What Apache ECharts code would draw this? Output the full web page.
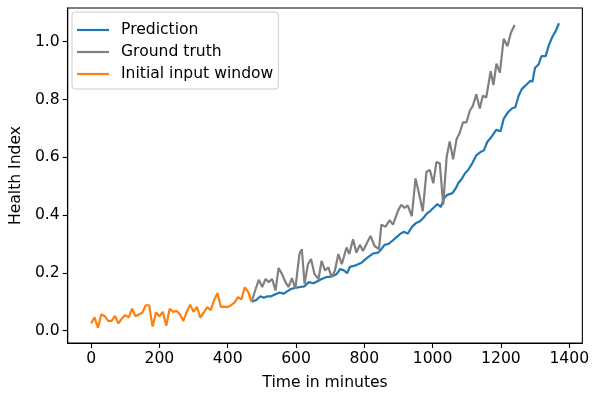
<!DOCTYPE html>
<html>
<head>
<meta charset="utf-8">
<script src="https://cdn.jsdelivr.net/npm/echarts@6/dist/echarts.min.js"></script>
<style>html,body{margin:0;padding:0;background:#fff;}#c{width:592px;height:396px;}</style>
</head>
<body>
<div id="c"></div>
<script>
const inputTimes = [0,10,20,30,40,50,60,70,80,90,100,110,120,130,140,150,160,170,180,190,200,210,220,230,240,250,260,270,280,290,300,310,320,330,340,350,360,370,380,390,400,410,420,430,440,450,460,470];
const inputValues = [0.025,0.046,0.010,0.057,0.050,0.034,0.034,0.051,0.025,0.042,0.054,0.046,0.076,0.050,0.056,0.062,0.088,0.088,0.014,0.063,0.050,0.065,0.017,0.076,0.065,0.068,0.057,0.033,0.065,0.090,0.065,0.082,0.045,0.063,0.082,0.071,0.105,0.130,0.082,0.082,0.082,0.088,0.097,0.116,0.108,0.150,0.134,0.100];

const truthTimes = [470,482,491,501,511,520,530,540,549,559,569,578,588,598,610,617,625,635,644,654,666,675,685,695,704,714,724,734,748,756,767,777,787,796,806,818,830,843,850,862,874,884,898,908,918,927,939,950,961,971,982,992,1002,1011,1021,1031,1041,1050,1060,1070,1080,1089,1099,1109,1118,1128,1138,1147,1157,1170,1178,1187,1197,1208,1219,1229,1240];
const truthValues = [0.100,0.145,0.176,0.151,0.179,0.168,0.179,0.139,0.217,0.196,0.168,0.151,0.182,0.145,0.265,0.282,0.162,0.230,0.248,0.196,0.179,0.242,0.208,0.219,0.185,0.208,0.265,0.230,0.288,0.265,0.316,0.270,0.297,0.276,0.299,0.328,0.293,0.282,0.367,0.360,0.382,0.367,0.413,0.436,0.425,0.434,0.396,0.527,0.470,0.413,0.550,0.556,0.510,0.584,0.579,0.436,0.600,0.655,0.593,0.662,0.687,0.721,0.721,0.761,0.779,0.818,0.769,0.813,0.807,0.898,0.850,0.924,0.893,1.010,0.984,1.030,1.058];

const predTimes = [470,482,496,506,516,527,540,552,564,574,585,598,612,624,637,651,663,675,688,700,709,719,729,738,750,758,772,782,792,801,816,825,840,850,859,872,884,893,903,915,927,940,952,963,973,982,992,1005,1014,1024,1034,1043,1058,1068,1075,1085,1095,1104,1116,1128,1140,1150,1160,1172,1186,1199,1208,1221,1232,1242,1252,1261,1276,1286,1292,1300,1310,1319,1331,1341,1351,1360,1370];
const predValues = [0.100,0.105,0.119,0.114,0.119,0.119,0.126,0.132,0.128,0.136,0.144,0.148,0.151,0.153,0.168,0.164,0.171,0.179,0.185,0.187,0.190,0.196,0.213,0.210,0.199,0.221,0.225,0.230,0.235,0.245,0.259,0.267,0.270,0.282,0.297,0.301,0.313,0.322,0.333,0.342,0.336,0.360,0.373,0.379,0.390,0.404,0.413,0.428,0.438,0.428,0.459,0.470,0.476,0.493,0.510,0.525,0.545,0.556,0.579,0.607,0.618,0.624,0.653,0.670,0.695,0.690,0.733,0.756,0.769,0.773,0.813,0.836,0.853,0.865,0.861,0.910,0.921,0.950,0.950,0.990,1.018,1.036,1.064];

const xTicks = [0,200,400,600,800,1000,1200,1400];
const yTicks = [0,0.2,0.4,0.6,0.8,1.0];

const pairs = (ts, vs) => ts.map((t, i) => [t, vs[i]]);
const FONT = 'DejaVu Sans';
const FS = 15.6;

const chart = echarts.init(document.getElementById('c'), null, {renderer: 'canvas'});
chart.setOption({
  animation: false,
  backgroundColor: '#ffffff',
  textStyle: {fontFamily: FONT},
  grid: {left: 65, right: 8, top: 8, bottom: 50, show: true, borderColor: '#000', borderWidth: 1.1, backgroundColor: 'transparent'},
  legend: {
    orient: 'vertical', left: 72, top: 12,
    icon: 'path://M0,0 L32,0 L32,2.2 L0,2.2 Z',
    itemWidth: 32, itemHeight: 14, itemGap: 6,
    padding: [10, 5, 7, 5],
    backgroundColor: 'rgba(255,255,255,0.8)', borderColor: '#cccccc', borderWidth: 1, borderRadius: 3,
    textStyle: {fontFamily: FONT, fontSize: FS, color: '#000', padding: [0, 0, 0, 7]},
    data: ['Prediction', 'Ground truth', 'Initial input window']
  },
  xAxis: {
    type: 'value', min: -68.5, max: 1438.5,
    name: 'Time in minutes', nameLocation: 'middle', nameGap: 32,
    nameTextStyle: {fontFamily: FONT, fontSize: FS, color: '#000'},
    axisLine: {show: true, onZero: false, lineStyle: {color: '#000', width: 1.1}},
    axisTick: {show: true, length: 5, lineStyle: {color: '#000', width: 1.1}, customValues: xTicks},
    axisLabel: {fontFamily: FONT, fontSize: FS, color: '#000', margin: 8, customValues: xTicks, formatter: v => String(v)},
    splitLine: {show: false}
  },
  yAxis: {
    type: 'value', min: -0.0427, max: 1.1167,
    name: 'Health Index', nameLocation: 'middle', nameGap: 42, nameRotate: 90,
    nameTextStyle: {fontFamily: FONT, fontSize: FS, color: '#000'},
    axisLine: {show: true, onZero: false, lineStyle: {color: '#000', width: 1.1}},
    axisTick: {show: true, length: 5, lineStyle: {color: '#000', width: 1.1}, customValues: yTicks},
    axisLabel: {fontFamily: FONT, fontSize: FS, color: '#000', margin: 8, customValues: yTicks, formatter: v => v.toFixed(1)},
    splitLine: {show: false}
  },
  series: [
    {name: 'Prediction', type: 'line', data: pairs(predTimes, predValues), symbol: 'none', lineStyle: {color: '#1f77b4', width: 2.2}, itemStyle: {color: '#1f77b4'}},
    {name: 'Ground truth', type: 'line', data: pairs(truthTimes, truthValues), symbol: 'none', lineStyle: {color: '#808080', width: 2.2}, itemStyle: {color: '#808080'}},
    {name: 'Initial input window', type: 'line', data: pairs(inputTimes, inputValues), symbol: 'none', lineStyle: {color: '#ff7f0e', width: 2.2}, itemStyle: {color: '#ff7f0e'}}
  ]
});
</script>
</body>
</html>
